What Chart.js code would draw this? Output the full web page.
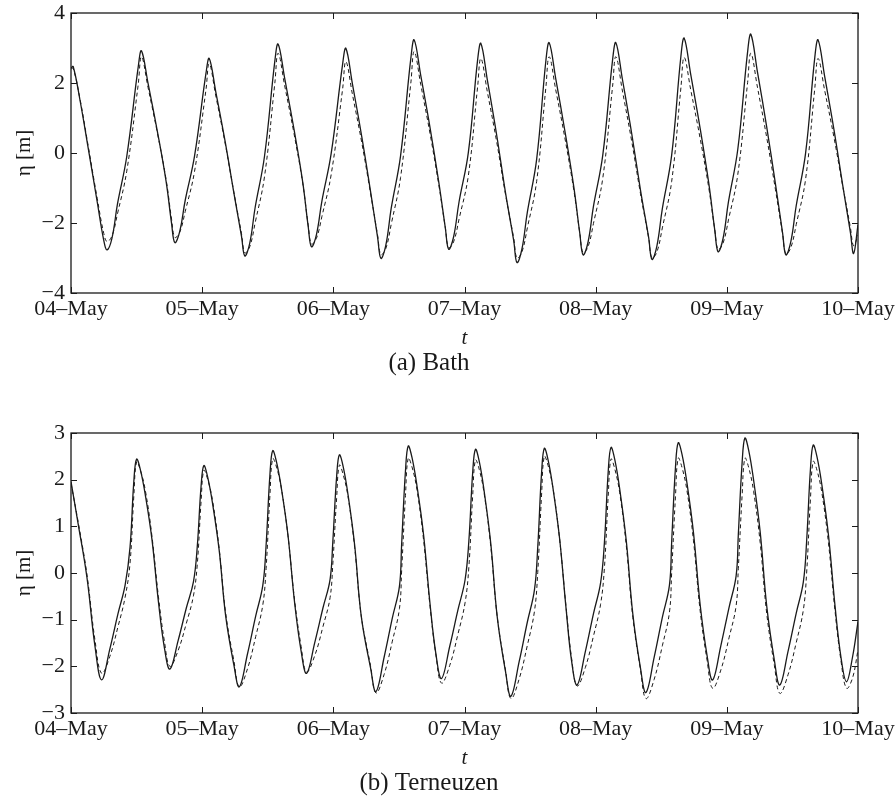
<!DOCTYPE html>
<html>
<head>
<meta charset="utf-8">
<script src="https://cdn.jsdelivr.net/npm/chart.js@4.4.1/dist/chart.umd.min.js"></script>
<style>
  html, body { margin: 0; padding: 0; background: #fff; overflow: hidden; }
  #wrapA { position: absolute; left: 0; top: 0; width: 896px; height: 400px; }
  #wrapB { position: absolute; left: 0; top: 420px; width: 896px; height: 389px; }
</style>
</head>
<body>
<div id="wrapA"><canvas id="chartA" width="896" height="400"></canvas></div>
<div id="wrapB"><canvas id="chartB" width="896" height="389"></canvas></div>
<script>
// ---- data (hours since 04-May 00:00, water level in m) ----
const dayLabels = ['04–May', '05–May', '06–May', '07–May', '08–May', '09–May', '10–May'];

const bathTime = [
  0, 0.4, 1.6, 3.2, 4.8, 6.0,
  6.6, 7.5, 8.5, 10.2, 12.3, 12.9, 14.1, 15.8, 17.4, 18.4,
  19.0, 19.9, 20.9, 22.6, 24.7, 25.3, 26.5, 28.2, 29.8, 31.2,
  31.8, 32.7, 33.7, 35.4, 37.3, 37.9, 39.1, 40.8, 42.4, 43.4,
  44.0, 44.9, 45.9, 47.6, 49.7, 50.3, 51.5, 53.2, 54.8, 56.1,
  56.7, 57.6, 58.6, 60.3, 62.2, 62.8, 64.0, 65.7, 67.3, 68.5,
  69.1, 70.0, 71.0, 72.7, 74.4, 75.0, 76.2, 77.9, 79.5, 81.0,
  81.6, 82.5, 83.5, 85.2, 86.9, 87.5, 88.7, 90.4, 92.0, 93.1,
  93.7, 94.6, 95.6, 97.3, 99.1, 99.7, 100.9, 102.6, 104.2, 105.7,
  106.3, 107.2, 108.2, 109.9, 111.6, 112.2, 113.4, 115.1, 116.7, 117.8,
  118.4, 119.3, 120.3, 122.0, 123.8, 124.4, 125.6, 127.3, 128.9, 130.2,
  130.8, 131.7, 132.7, 134.4, 136.1, 136.7, 137.9, 139.6, 141.2, 142.6,
  143.2, 144.0
];
const bathObs = [
  2.43, 2.47, 1.55, 0.09, -1.40, -2.50,
  -2.77, -2.43, -1.46, -0.10, 2.46, 2.92, 1.99, 0.62, -0.81, -2.01,
  -2.56, -2.24, -1.35, -0.09, 2.28, 2.70, 1.74, 0.33, -1.14, -2.38,
  -2.94, -2.58, -1.55, -0.10, 2.63, 3.11, 2.13, 0.68, -0.83, -2.10,
  -2.68, -2.34, -1.38, -0.02, 2.54, 2.99, 1.97, 0.47, -1.09, -2.41,
  -3.01, -2.64, -1.57, -0.08, 2.73, 3.23, 2.21, 0.72, -0.84, -2.15,
  -2.75, -2.40, -1.40, 0.01, 2.66, 3.13, 2.07, 0.50, -1.13, -2.50,
  -3.13, -2.75, -1.69, -0.18, 2.65, 3.15, 2.12, 0.60, -0.97, -2.30,
  -2.91, -2.55, -1.52, -0.06, 2.67, 3.15, 2.10, 0.55, -1.06, -2.42,
  -3.04, -2.66, -1.59, -0.07, 2.77, 3.28, 2.24, 0.72, -0.87, -2.21,
  -2.82, -2.45, -1.39, 0.10, 2.89, 3.39, 2.32, 0.74, -0.89, -2.28,
  -2.91, -2.54, -1.50, -0.02, 2.74, 3.23, 2.19, 0.67, -0.92, -2.26,
  -2.87, -2.05
];
const bathModel = [
  2.40, 2.42, 1.58, 0.15, -1.30, -2.30,
  -2.53, -2.37, -1.74, -0.52, 1.96, 2.75, 1.87, 0.58, -0.76, -1.89,
  -2.41, -2.26, -1.67, -0.53, 1.81, 2.55, 1.63, 0.28, -1.12, -2.31,
  -2.85, -2.68, -1.99, -0.68, 2.00, 2.85, 1.92, 0.56, -0.86, -2.06,
  -2.60, -2.44, -1.82, -0.62, 1.83, 2.61, 1.67, 0.30, -1.14, -2.35,
  -2.90, -2.73, -2.03, -0.70, 2.03, 2.90, 1.95, 0.55, -0.91, -2.14,
  -2.70, -2.54, -1.89, -0.65, 1.89, 2.70, 1.73, 0.31, -1.18, -2.43,
  -3.00, -2.83, -2.14, -0.81, 1.89, 2.75, 1.80, 0.40, -1.06, -2.29,
  -2.85, -2.68, -2.01, -0.72, 1.91, 2.75, 1.77, 0.33, -1.16, -2.43,
  -3.00, -2.83, -2.14, -0.82, 1.87, 2.73, 1.80, 0.43, -1.00, -2.20,
  -2.75, -2.58, -1.91, -0.62, 2.01, 2.85, 1.88, 0.44, -1.05, -2.31,
  -2.88, -2.71, -2.04, -0.76, 1.86, 2.70, 1.79, 0.45, -0.94, -2.12,
  -2.65, -2.35
];

const ternTime = [
  0, 1.3, 2.9, 4.4,
  5.6, 7.1, 8.6, 9.9, 10.8, 11.5, 12.0, 12.7, 13.6, 14.8, 16.0, 17.1,
  18.1, 19.6, 21.1, 22.4, 23.1, 23.8, 24.3, 25.0, 25.9, 27.1, 28.3, 29.8,
  30.8, 32.3, 33.8, 35.1, 35.7, 36.4, 36.9, 37.6, 38.5, 39.7, 40.9, 42.1,
  43.1, 44.6, 46.1, 47.4, 47.9, 48.6, 49.1, 49.8, 50.7, 51.9, 53.1, 54.8,
  55.8, 57.3, 58.8, 60.1, 60.5, 61.2, 61.7, 62.4, 63.3, 64.5, 65.7, 66.8,
  67.8, 69.3, 70.8, 72.1, 72.8, 73.5, 74.0, 74.7, 75.6, 76.8, 78.0, 79.5,
  80.5, 82.0, 83.5, 84.8, 85.4, 86.1, 86.6, 87.3, 88.2, 89.4, 90.6, 91.6,
  92.6, 94.1, 95.6, 96.9, 97.6, 98.3, 98.8, 99.5, 100.4, 101.6, 102.8, 104.2,
  105.2, 106.7, 108.2, 109.5, 109.9, 110.6, 111.1, 111.8, 112.7, 113.9, 115.1, 116.4,
  117.4, 118.9, 120.4, 121.7, 122.1, 122.8, 123.3, 124.0, 124.9, 126.1, 127.3, 128.7,
  129.7, 131.2, 132.7, 134.0, 134.6, 135.3, 135.8, 136.5, 137.4, 138.6, 139.8, 140.9,
  141.9, 143.0, 144.0
];
const ternObs = [
  1.96, 1.06, -0.08, -1.58,
  -2.29, -1.63, -0.87, -0.26, 0.55, 1.97, 2.44, 2.21, 1.67, 0.73, -0.62, -1.61,
  -2.06, -1.45, -0.75, -0.19, 0.56, 1.86, 2.30, 2.06, 1.49, 0.50, -0.92, -1.97,
  -2.44, -1.73, -0.92, -0.26, 0.60, 2.11, 2.62, 2.38, 1.81, 0.81, -0.62, -1.67,
  -2.15, -1.49, -0.75, -0.14, 0.66, 2.06, 2.53, 2.28, 1.67, 0.60, -0.92, -2.03,
  -2.54, -1.80, -0.96, -0.28, 0.62, 2.19, 2.72, 2.47, 1.87, 0.83, -0.67, -1.76,
  -2.26, -1.57, -0.79, -0.15, 0.69, 2.16, 2.65, 2.39, 1.75, 0.64, -0.95, -2.11,
  -2.64, -1.90, -1.05, -0.36, 0.55, 2.14, 2.67, 2.42, 1.81, 0.74, -0.78, -1.89,
  -2.40, -1.69, -0.87, -0.21, 0.65, 2.18, 2.69, 2.43, 1.80, 0.69, -0.88, -2.04,
  -2.56, -1.81, -0.95, -0.26, 0.65, 2.26, 2.79, 2.54, 1.93, 0.86, -0.66, -1.78,
  -2.29, -1.56, -0.74, -0.06, 0.82, 2.37, 2.89, 2.63, 1.99, 0.88, -0.71, -1.87,
  -2.40, -1.68, -0.86, -0.19, 0.68, 2.23, 2.74, 2.49, 1.88, 0.81, -0.71, -1.82,
  -2.33, -1.80, -1.04
];
const ternModel = [
  1.92, 1.10, -0.02, -1.45,
  -2.15, -1.79, -1.15, -0.52, 0.21, 1.66, 2.38, 2.20, 1.77, 0.80, -0.51, -1.47,
  -2.00, -1.66, -1.08, -0.49, 0.18, 1.53, 2.20, 2.01, 1.55, 0.53, -0.86, -1.88,
  -2.44, -2.05, -1.36, -0.68, 0.10, 1.67, 2.45, 2.27, 1.81, 0.80, -0.57, -1.57,
  -2.12, -1.77, -1.15, -0.53, 0.18, 1.60, 2.31, 2.11, 1.63, 0.55, -0.91, -1.98,
  -2.57, -2.17, -1.46, -0.76, 0.05, 1.66, 2.46, 2.27, 1.79, 0.72, -0.72, -1.78,
  -2.36, -1.98, -1.31, -0.64, 0.13, 1.66, 2.42, 2.22, 1.70, 0.58, -0.95, -2.08,
  -2.69, -2.27, -1.55, -0.82, 0.01, 1.67, 2.50, 2.30, 1.81, 0.73, -0.75, -1.83,
  -2.42, -2.03, -1.35, -0.67, 0.11, 1.66, 2.44, 2.23, 1.72, 0.59, -0.95, -2.07,
  -2.69, -2.28, -1.56, -0.84, -0.01, 1.64, 2.46, 2.26, 1.77, 0.69, -0.79, -1.88,
  -2.47, -2.08, -1.39, -0.70, 0.09, 1.67, 2.46, 2.26, 1.75, 0.65, -0.87, -1.98,
  -2.58, -2.18, -1.49, -0.79, 0.00, 1.59, 2.39, 2.20, 1.71, 0.64, -0.82, -1.89,
  -2.47, -2.25, -1.65
];

// ---- rendering ----
const INK = '#1a1a1a';
const FONT = "'Liberation Serif', 'Times New Roman', serif";
Chart.defaults.font.family = FONT;
Chart.defaults.font.size = 21;
Chart.defaults.color = INK;

const framePlugin = {
  id: 'frame',
  afterDraw(chart) {
    const { ctx, chartArea: a, scales } = chart;
    const x = scales.x, y = scales.y;
    const L = 6;
    ctx.save();
    ctx.strokeStyle = INK;
    ctx.lineWidth = 1.3;
    ctx.strokeRect(a.left, a.top, a.right - a.left, a.bottom - a.top);
    ctx.lineWidth = 1;
    ctx.beginPath();
    x.ticks.forEach(t => {
      const px = Math.round(x.getPixelForValue(t.value)) + 0.5;
      ctx.moveTo(px, a.bottom); ctx.lineTo(px, a.bottom - L);
      ctx.moveTo(px, a.top); ctx.lineTo(px, a.top + L);
    });
    y.ticks.forEach(t => {
      const py = Math.round(y.getPixelForValue(t.value)) + 0.5;
      ctx.moveTo(a.left, py); ctx.lineTo(a.left + L, py);
      ctx.moveTo(a.right, py); ctx.lineTo(a.right - L, py);
    });
    ctx.stroke();
    ctx.restore();
  }
};

function pts(t, v) { return t.map((h, i) => ({ x: h, y: v[i] })); }
function fmtY(v) { return v < 0 ? '\u2212' + Math.abs(v) : String(v); }

function makeChart(id, times, obs, model, yMin, yMax, yStep, caption, padBottom) {
  return new Chart(document.getElementById(id), {
    type: 'line',
    data: {
      datasets: [
        { data: pts(times, obs), borderColor: INK, borderWidth: 1.3, pointRadius: 0,
          tension: 0.4, fill: false },
        { data: pts(times, model), borderColor: INK, borderWidth: 1, borderDash: [4, 3],
          pointRadius: 0, tension: 0.4, fill: false }
      ]
    },
    options: {
      responsive: false,
      animation: false,
      devicePixelRatio: 1,
      layout: { padding: { top: 13, right: 38, left: 0, bottom: padBottom } },
      plugins: {
        legend: { display: false },
        tooltip: { enabled: false },
        title: { display: true, text: caption, position: 'bottom', color: INK,
                 font: { size: 25, family: FONT, weight: 'normal', lineHeight: 1.0 },
                 padding: { top: 0, bottom: 0 } }
      },
      scales: {
        x: {
          type: 'linear', min: 0, max: 144,
          grid: { display: false, drawTicks: false },
          border: { display: false },
          ticks: { stepSize: 24, padding: 4, maxRotation: 0, autoSkip: false,
                   font: { size: 22, lineHeight: 1.1 },
                   callback: v => dayLabels[Math.round(v / 24)] },
          title: { display: true, text: 't', font: { size: 21, style: 'italic' }, padding: { top: 0, bottom: 0 } },
          afterFit: s => { s.height = 58; s.paddingLeft = 0; s.paddingRight = 0; }
        },
        y: {
          min: yMin, max: yMax,
          grid: { display: false, drawTicks: false },
          border: { display: false },
          ticks: { stepSize: yStep, padding: 6, font: { size: 22, lineHeight: 1.1 },
                   callback: v => fmtY(v) },
          title: { display: true, text: 'η [m]', font: { size: 21 }, padding: { top: 12, bottom: 0 } },
          afterFit: s => { s.width = 71; s.paddingTop = 0; s.paddingBottom = 0; }
        }
      }
    },
    plugins: [framePlugin]
  });
}

makeChart('chartA', bathTime, bathObs, bathModel, -4, 4, 2, '(a) Bath', 24);
makeChart('chartB', ternTime, ternObs, ternModel, -3, 3, 1, '(b) Terneuzen', 13);
</script>
</body>
</html>
